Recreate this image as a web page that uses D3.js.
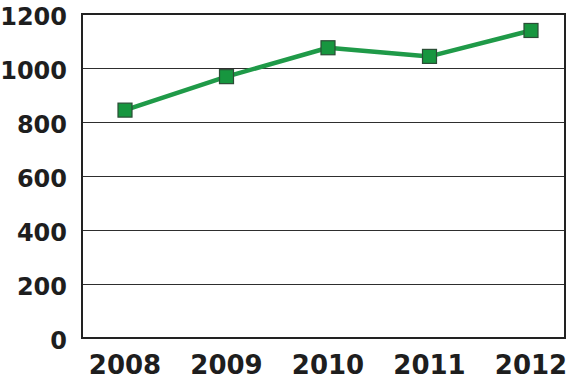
<!DOCTYPE html>
<html>
<head>
<meta charset="utf-8">
<script src="https://cdn.jsdelivr.net/npm/d3@7"></script>
<style>
  body { margin: 0; background: #fff; }
  svg text { font-family: "DejaVu Sans", sans-serif; font-weight: bold; fill: #1e1e1e; }
</style>
</head>
<body>
<svg id="chart" width="570" height="382"></svg>
<script>
// data
const years = ["2008", "2009", "2010", "2011", "2012"];
const values = [844, 968, 1075, 1043, 1139];
const yTicks = [0, 200, 400, 600, 800, 1000, 1200];

const svg = d3.select("#chart");
const plotLeft = 82, plotRight = 565, plotTop = 14, plotBottom = 338;

let x = d3.scalePoint()
    .domain(years)
    .range([plotLeft + 43, plotRight - 34]);

let y = d3.scaleLinear()
    .domain([0, 1200])
    .range([plotBottom, plotTop]);

// gridlines
svg.append("g")
    .selectAll("line")
    .data(yTicks.filter(d => d > 0 && d < 1200))
    .enter()
    .append("line")
    .attr("x1", plotLeft)
    .attr("x2", plotRight)
    .attr("y1", d => y(d) + 0.5)
    .attr("y2", d => y(d) + 0.5)
    .attr("stroke", "#2e2e2e")
    .attr("stroke-width", 1);

// plot frame
svg.append("rect")
    .attr("x", plotLeft)
    .attr("y", plotTop)
    .attr("width", plotRight - plotLeft)
    .attr("height", plotBottom - plotTop)
    .attr("fill", "none")
    .attr("stroke", "#222")
    .attr("stroke-width", 2);

// y labels
svg.append("g")
    .selectAll("text")
    .data(yTicks)
    .enter()
    .append("text")
    .attr("x", 67)
    .attr("y", d => y(d) + 3)
    .attr("text-anchor", "end")
    .attr("dominant-baseline", "central")
    .style("font-size", "24px")
    .text(d => d);

// x labels
svg.append("g")
    .selectAll("text")
    .data(years)
    .enter()
    .append("text")
    .attr("x", d => x(d))
    .attr("y", 374)
    .attr("text-anchor", "middle")
    .style("font-size", "26px")
    .text(d => d);

// line
let line = d3.line()
    .x((d, i) => x(years[i]))
    .y(d => y(d));

svg.append("path")
    .datum(values)
    .attr("d", line)
    .attr("fill", "none")
    .attr("stroke", "#1f9a48")
    .attr("stroke-width", 4.5)
    .attr("stroke-linejoin", "round");

// square markers
const s = 14;
svg.append("g")
    .selectAll("rect")
    .data(values)
    .enter()
    .append("rect")
    .attr("x", (d, i) => x(years[i]) - s / 2)
    .attr("y", d => y(d) - s / 2)
    .attr("width", s)
    .attr("height", s)
    .attr("fill", "#17963f")
    .attr("stroke", "#2b4d36")
    .attr("stroke-width", 1.2);
</script>
</body>
</html>
